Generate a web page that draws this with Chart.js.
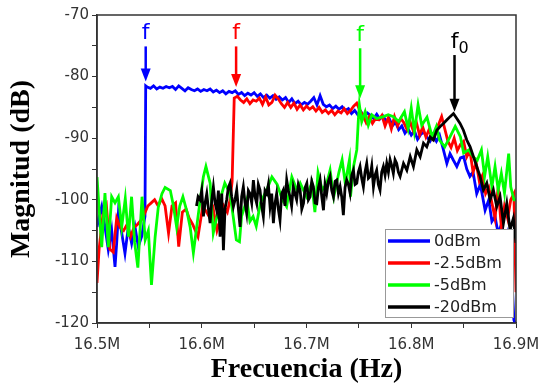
<!DOCTYPE html>
<html>
  <head>
    <style>
      body { margin: 0; background: #fff; }
      canvas { display: block; }
    </style>
  </head>
  <body>
    <canvas id="myChart" width="541" height="385"></canvas>
  </body>
</html>

<script src="https://cdn.jsdelivr.net/npm/chart.js"></script>
<script>
  // frequencies in MHz, magnitudes in dB
  let seriesLabels = ['0dBm', '-2.5dBm', '-5dBm', '-20dBm'];
  let seriesColors = ['#0000ff', '#ff0000', '#00ff00', '#000000'];

  let blueFreq = [16.500,16.5013,16.5045,16.5076,16.5108,16.514,16.5172,16.5188,16.5204,16.5236,16.5267,16.5299,16.5331,16.5363,16.5394,16.5426,16.5458,16.5465,
    16.548,16.551,16.554,16.557,16.560,16.563,16.566,16.569,16.572,16.575,16.578,16.581,16.584,16.587,16.590,16.593,16.596,16.599,16.602,16.605,16.608,16.611,16.614,16.617,16.620,16.623,16.626,16.629,16.632,16.635,16.638,16.641,16.644,16.647,16.650,16.653,16.656,16.659,16.662,16.665,16.668,16.671,16.674,16.677,16.680,16.683,16.686,16.689,16.692,16.695,16.698,16.701,16.704,16.707,16.710,16.713,16.716,16.719,16.722,16.725,16.728,16.731,16.734,16.737,16.740,16.743,16.746,16.749,16.752,16.755,16.758,16.761,16.764,16.767,16.770,16.773,16.776,16.779,16.782,16.785,16.788,16.791,16.794,16.797,16.800,16.803,16.806,16.809,16.812,16.815,16.818,16.821,
    16.824,16.827,16.830,16.834,16.837,16.840,16.8435,16.847,16.850,16.853,16.856,16.859,16.8625,16.866,16.8705,16.874,16.877,16.880,16.883,16.886,16.889,16.892,16.895,16.898,16.899];
  let blueMag = [-104.4,-103.3,-101.1,-104.4,-108.1,-104.9,-110.9,-107,-102.2,-105.4,-108.7,-104.4,-107.1,-104.4,-107.6,-106,-102.7,-81.5,
    -81.7,-81.9,-81.5,-82.0,-81.7,-81.9,-81.6,-81.8,-81.6,-82.1,-81.5,-81.9,-82.3,-81.8,-82.1,-82.3,-82.0,-82.4,-82.1,-82.3,-82.0,-82.5,-82.2,-82.6,-82.3,-82.8,-82.4,-82.6,-82.3,-82.9,-82.6,-83.1,-82.7,-83.0,-82.6,-83.2,-82.8,-83.4,-83.0,-83.5,-83.1,-83.7,-83.3,-83.8,-83.4,-84.2,-83.6,-84.4,-84.0,-84.6,-84.2,-84.5,-84.0,-83.4,-84.6,-83.1,-84.5,-84.9,-84.6,-85.2,-84.8,-85.3,-84.9,-85.5,-85.2,-86.0,-85.5,-86.2,-85.7,-86.5,-85.9,-86.3,-86.8,-86.1,-86.9,-86.4,-87.2,-86.8,-88.0,-87.4,-88.6,-88.0,-89.2,-88.5,-89.5,-88.8,-90.2,-89.4,-89.0,-89.8,-90.5,-89.6,
    -90.5,-89.5,-91.4,-94.1,-92.5,-93.5,-94.6,-93.2,-93.0,-95.0,-96.2,-95.5,-99.0,-97.5,-101.7,-100.0,-103.5,-102.7,-105.5,-104,-107.5,-105.5,-108.6,-119.5,-120];

  let redFreq = [16.500,16.502,16.5056,16.509,16.5122,16.5155,16.5188,16.522,16.5254,16.5287,16.532,16.5353,16.5386,16.5436,16.5485,16.5518,16.555,16.5584,16.5617,16.565,16.5683,16.5716,16.575,16.578,16.5815,16.585,16.588,16.5914,16.5964,16.601,16.6046,16.608,16.611,16.6145,16.618,16.621,16.6244,16.627,16.629,
    16.631,16.634,16.637,16.640,16.643,16.646,16.649,16.652,16.655,16.658,16.661,16.664,16.667,16.670,16.673,16.676,16.679,16.682,16.685,16.688,16.691,16.694,16.697,16.700,16.703,16.706,16.709,16.712,16.715,16.718,16.721,16.724,16.727,16.730,16.733,16.736,16.739,16.742,16.745,16.748,16.751,16.754,16.757,16.760,16.763,16.766,16.769,16.772,16.775,16.778,16.781,16.784,16.787,16.790,16.793,16.796,16.799,16.802,16.805,16.808,16.811,16.814,16.817,16.820,16.823,16.826,16.829,16.832,16.835,16.838,16.841,16.844,16.847,16.850,16.853,16.856,16.859,16.862,16.865,16.868,16.871,16.874,16.877,16.880,16.883,16.886,16.889,16.892,16.895,16.898,16.900];
  let redMag = [-113.5,-108,-102.5,-101,-108,-108.5,-103,-104.5,-105,-104,-106,-104.5,-104,-103,-101,-100.5,-100,-101,-99.8,-101,-105.4,-101,-100.5,-107.6,-102,-101.5,-103,-104,-106,-101,-102,-103,-101.5,-105,-103,-101,-102,-100,-97,
    -83.5,-83.2,-83.8,-84.2,-83.6,-84.4,-83.8,-84.0,-83.5,-84.5,-83.3,-84.6,-84.2,-83.0,-83.6,-84.4,-85.0,-84.2,-85.0,-84.3,-85.3,-84.6,-85.4,-84.8,-85.3,-84.9,-85.6,-85.0,-85.8,-85.4,-86.0,-85.5,-86.2,-85.6,-85.9,-85.2,-86.0,-85.5,-84.8,-84.3,-85.5,-86.3,-87.5,-86.5,-87.6,-86.8,-87.0,-86.3,-88.0,-86.7,-88.5,-86.5,-88.0,-86.8,-87.5,-88.6,-87.4,-88.8,-87.5,-89.5,-88.2,-89.8,-88.6,-90.0,-89.0,-87.8,-86.5,-88.5,-90.5,-91.5,-90.0,-92.0,-91.0,-90.5,-93.0,-92.0,-95.5,-94.0,-97.0,-96.0,-99.0,-98.0,-100.5,-103.0,-98.0,-104.5,-101.0,-103.0,-100.0,-99.0,-115];

  let greenFreq = [16.500,16.5045,16.5076,16.5108,16.514,16.5172,16.5204,16.5236,16.527,16.530,16.533,16.536,16.539,16.543,16.546,16.549,16.552,16.5555,16.5585,16.562,16.565,16.570,16.573,16.576,16.579,16.582,16.586,16.589,16.592,16.597,16.6015,16.604,16.608,16.611,16.6145,16.6175,16.622,16.627,16.630,16.633,16.636,16.638,16.643,16.646,16.649,16.652,16.656,16.662,16.667,16.672,16.677,16.681,16.686,16.691,16.694,16.700,16.705,16.708,16.711,16.715,16.719,16.7225,16.726,16.731,16.734,16.737,16.741,16.742,16.745,16.748,16.7495,
    16.7505,16.7527,16.756,16.759,16.7624,16.767,16.7735,16.778,16.783,16.788,16.7935,16.797,16.800,16.803,16.8065,16.810,16.815,16.820,16.824,16.827,16.832,16.837,16.842,16.847,16.850,16.855,16.859,16.863,16.867,16.870,16.873,16.877,16.880,16.883,16.886,16.889,16.893,16.895,16.898,16.900];
  let greenMag = [-96.3,-107.7,-98.9,-107.7,-99.5,-100.5,-99.5,-104.4,-99.8,-106,-99.5,-107,-111,-99.5,-106.5,-105,-113.8,-106,-101.2,-99,-98,-98.5,-101,-104.4,-101,-99.5,-102,-104.5,-108.6,-102,-96.3,-94.6,-97.3,-105.4,-102.7,-100,-97.3,-99,-102.7,-106.5,-106.8,-102.7,-100,-103.5,-102.7,-104.3,-100.5,-98.4,-96.3,-97.5,-100,-101.1,-96.3,-98.5,-97.3,-99.5,-97.3,-102,-95.6,-98.4,-97.5,-95.2,-99.5,-95.5,-93.5,-97.3,-93.5,-99.5,-94.5,-91.9,-87,
    -84.6,-87.3,-85.7,-87.9,-86.2,-86.8,-86.5,-86.2,-86.5,-87.3,-85.7,-88.4,-85.1,-88.9,-84.6,-87.9,-86.6,-89.8,-88.1,-90.3,-91.4,-89.8,-88.1,-89.8,-92.4,-91.9,-93,-93.6,-91.9,-96.2,-93,-97.9,-94.6,-98.4,-95.7,-98.9,-92.5,-97.9,-100,-100];

  let blackFreq = [16.595,16.5965,16.5984,16.6,16.6016,16.6032,16.6048,16.6064,16.608,16.6096,16.6111,16.6127,16.6143,16.6159,16.6175,16.6191,16.6207,16.6222,16.6238,16.6254,16.627,16.6286,16.6302,16.6318,16.6334,16.635,16.6366,16.6381,16.6397,16.6413,16.6429,16.6445,16.6461,16.6477,16.6493,16.6509,16.6525,16.654,16.6556,16.6572,16.6588,16.6604,16.662,16.6636,16.6652,16.6668,16.6684,16.67,16.6715,16.6731,16.6747,16.6763,16.6779,16.6795,16.6811,16.6827,16.6843,16.6858,16.6874,16.689,16.6906,16.6922,16.6939,16.6955,16.6971,16.6987,16.7003,16.7018,16.7034,16.705,16.7066,16.7082,16.7098,16.7114,16.713,16.7146,16.7162,16.7177,16.7193,16.7209,16.7225,16.7241,16.7257,16.7273,16.7289,16.7305,16.7321,16.7336,16.7352,16.7368,16.7384,16.74,16.7416,16.7432,16.7448,16.7464,16.748,16.7495,16.7511,16.7527,16.7543,16.7559,16.7575,16.7591,16.7607,16.7623,16.7639,16.7655,16.767,16.7686,16.7702,16.7718,16.7734,16.775,16.7766,16.7782,16.7798,16.7814,16.7829,16.7845,16.7861,16.7877,16.7894,16.7926,16.7958,16.799,16.8021,16.8053,16.8085,16.8117,16.8148,16.818,16.8212,16.8244,16.8276,16.8307,16.8339,16.8371,16.8403,16.8435,16.8466,16.8498,16.853,16.8562,16.8594,16.8625,16.8657,16.8689,16.8721,16.8753,16.8784,16.8816,16.8848,16.888,16.8912,16.8943,16.8975,16.900];
  let blackMag = [-101.0,-99.5,-100.0,-98.5,-102.7,-100.5,-99.0,-101.5,-103.8,-100.0,-97.9,-100.5,-101.7,-98.5,-106.0,-99.0,-108.2,-101.5,-100.0,-98.0,-97.3,-99.5,-101.1,-100.0,-98.4,-101.5,-104.4,-99.5,-97.9,-100.5,-102.2,-98.5,-99.0,-100.5,-96.8,-99.5,-100.6,-97.5,-98.4,-101.0,-102.7,-98.5,-99.0,-97.5,-101.1,-99.0,-103.8,-100.5,-99.0,-101.5,-103.3,-99.0,-98.4,-101.0,-96.8,-98.5,-99.5,-101.0,-97.9,-99.0,-100.0,-97.5,-98.4,-101.5,-100.6,-98.0,-97.3,-100.0,-99.5,-97.0,-97.9,-100.5,-100.6,-98.0,-96.8,-99.5,-101.7,-97.5,-98.9,-97.0,-96.2,-98.5,-99.5,-97.0,-96.8,-99.0,-97.9,-99.5,-102.5,-98.0,-96.8,-97.5,-98.9,-96.0,-95.2,-97.5,-97.3,-95.5,-94.6,-96.5,-97.9,-95.5,-94.1,-96.5,-96.2,-94.5,-97.9,-96.0,-95.2,-97.5,-98.4,-95.5,-94.6,-96.0,-94.1,-95.5,-93.5,-94.5,-95.7,-93.5,-94.1,-95.5,-96.2,-94.1,-95.2,-93.0,-94.6,-91.9,-93.0,-90.8,-91.4,-89.8,-90.3,-88.7,-88.1,-87.6,-87.05,-86.5,-86.0,-86.8,-87.6,-88.7,-90.3,-91.4,-93.0,-94.6,-96.2,-98.4,-97.3,-100.0,-98.4,-101.1,-99.5,-103.8,-100.6,-104.9,-103.0,-107.0];

  // arrows with "f" labels
  let markerFreqs = [16.5465, 16.6328, 16.7512, 16.8413];
  let markerTops = [-75.1, -75.1, -75.4, -76.5];
  let markerTips = [-80.8, -81.7, -83.5, -85.7];
  let markerSubs = ['', '', '', '0'];

  let xTicksMin = 16.5, xTicksMax = 16.9;
  let yTicksMin = -120, yTicksMax = -70;

  function zip(fs, ms){
    return fs.map(function(f, i){ return {x: f, y: ms[i]}; });
  }

  let freqs = [blueFreq, redFreq, greenFreq, blackFreq];
  let mags = [blueMag, redMag, greenMag, blackMag];

  let datasets = seriesLabels.map(function(lbl, i){
    return {
      label: lbl,
      data: zip(freqs[i], mags[i]),
      borderColor: seriesColors[i],
      backgroundColor: seriesColors[i],
      borderWidth: 2.8,
      pointRadius: 0,
      tension: 0,
      order: 3 - i
    };
  });

  let framePlugin = {
    id: 'frame',
    afterDatasetsDraw: function(chart){
      let ctx = chart.ctx, a = chart.chartArea;
      let xs = chart.scales.x, ys = chart.scales.y;
      ctx.save();
      ctx.strokeStyle = '#333';
      ctx.lineWidth = 1.5;
      ctx.strokeRect(a.left, a.top, a.right - a.left, a.bottom - a.top);

      // arrows
      for (let i = 0; i < markerFreqs.length; i++) {
        let px = xs.getPixelForValue(markerFreqs[i]);
        let top = ys.getPixelForValue(markerTops[i]);
        let tip = ys.getPixelForValue(markerTips[i]);
        ctx.strokeStyle = seriesColors[i];
        ctx.fillStyle = seriesColors[i];
        ctx.lineWidth = 2.5;
        ctx.beginPath();
        ctx.moveTo(px, top);
        ctx.lineTo(px, tip - 10);
        ctx.stroke();
        ctx.beginPath();
        ctx.moveTo(px - 5, tip - 13);
        ctx.lineTo(px + 5, tip - 13);
        ctx.lineTo(px, tip);
        ctx.closePath();
        ctx.fill();
        ctx.font = '22px "DejaVu Sans"';
        ctx.textAlign = 'center';
        ctx.textBaseline = 'alphabetic';
        ctx.fillText('f', px, top - 7);
        if (markerSubs[i]) {
          ctx.font = '16px "DejaVu Sans"';
          ctx.fillText(markerSubs[i], px + 9, top - 2);
        }
      }

      // legend box
      let bw = 128, bh = 88;
      let bx = a.right - 3 - bw, by = a.bottom - 6 - bh;
      ctx.fillStyle = '#fff';
      ctx.fillRect(bx, by, bw, bh);
      ctx.strokeStyle = '#999';
      ctx.lineWidth = 1;
      ctx.strokeRect(bx + 0.5, by + 0.5, bw, bh);
      ctx.font = '16px "DejaVu Sans"';
      ctx.textAlign = 'left';
      ctx.textBaseline = 'middle';
      for (let i = 0; i < seriesLabels.length; i++) {
        let ry = by + 12 + i * 22;
        ctx.strokeStyle = seriesColors[i];
        ctx.lineWidth = 3.5;
        ctx.beginPath();
        ctx.moveTo(bx + 3, ry);
        ctx.lineTo(bx + 45, ry);
        ctx.stroke();
        ctx.fillStyle = '#222';
        ctx.fillText(seriesLabels[i], bx + 49, ry + 1);
      }
      ctx.restore();
    }
  };

  let config = {
    type: 'line',
    data: { datasets: datasets },
    options: {
      responsive: false,
      animation: false,
      layout: { padding: { top: 15, right: 25, left: 0, bottom: 0 } },
      plugins: { legend: { display: false }, tooltip: { enabled: false } },
      scales: {
        x: {
          type: 'linear',
          min: xTicksMin,
          max: xTicksMax,
          afterFit: function(s){ s.height = 62; s.paddingRight = 20; s.paddingLeft = 0; },
          border: { color: '#333', width: 1.5 },
          grid: { drawOnChartArea: false, tickLength: 5, color: '#333' },
          ticks: {
            stepSize: 0.05,
            autoSkip: false,
            maxRotation: 0,
            color: '#333',
            padding: 8,
            font: { family: 'DejaVu Sans', size: 15 },
            callback: function(v){
              let t = Math.round(v * 100);
              return (t % 10 === 0) ? (t / 100).toFixed(1) + 'M' : '';
            }
          },
          title: {
            display: true,
            text: 'Frecuencia (Hz)',
            color: '#000',
            padding: { top: 0, bottom: 1 },
            font: { family: 'Liberation Serif', size: 28, weight: 'bold', lineHeight: 1 }
          }
        },
        y: {
          min: yTicksMin,
          max: yTicksMax,
          afterFit: function(s){ s.width = 97; },
          border: { color: '#333', width: 1.5 },
          grid: { drawOnChartArea: false, tickLength: 5, color: '#333' },
          ticks: {
            stepSize: 5,
            color: '#333',
            padding: 3,
            font: { family: 'DejaVu Sans', size: 15 },
            callback: function(v){ return (v % 10 === 0) ? String(v) : ''; }
          },
          title: {
            display: true,
            text: 'Magnitud (dB)',
            color: '#000',
            padding: { top: 8, bottom: 0 },
            font: { family: 'Liberation Serif', size: 28, weight: 'bold', lineHeight: 1 }
          }
        }
      }
    },
    plugins: [framePlugin]
  };

  let myChart = new Chart(document.getElementById('myChart'), config);
</script>
